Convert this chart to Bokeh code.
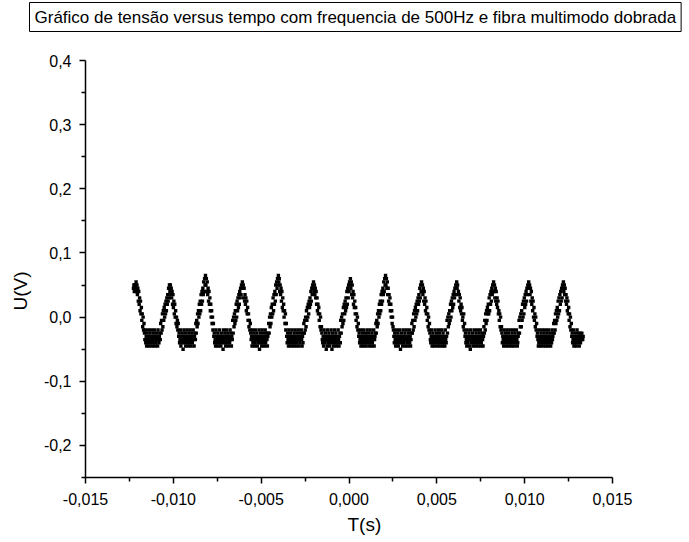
from bokeh.plotting import figure
from bokeh.models import Range1d, FixedTicker, CustomJSTickFormatter, Title, ColumnDataSource
from bokeh.embed import file_html
from bokeh.resources import INLINE

# Oscilloscope record: sample times (microseconds)
t_us = [
    -12270, -12245, -12220, -12195, -12170, -12145, -12120, -12095, -12070, -12045, -12020, -11995, -11970, -11945, -11920, -11895, -11870, -11845, -11820, -11795,
    -11770, -11745, -11720, -11695, -11670, -11645, -11620, -11595, -11570, -11545, -11520, -11495, -11470, -11445, -11420, -11395, -11370, -11345, -11320, -11295,
    -11270, -11245, -11220, -11195, -11170, -11145, -11120, -11095, -11070, -11045, -11020, -10995, -10970, -10945, -10920, -10895, -10870, -10845, -10820, -10795,
    -10770, -10745, -10720, -10695, -10670, -10645, -10620, -10595, -10570, -10545, -10520, -10495, -10470, -10445, -10420, -10395, -10370, -10345, -10320, -10295,
    -10270, -10245, -10220, -10195, -10170, -10145, -10120, -10095, -10070, -10045, -10020, -9995, -9970, -9945, -9920, -9895, -9870, -9845, -9820, -9795,
    -9770, -9745, -9720, -9695, -9670, -9645, -9620, -9595, -9570, -9545, -9520, -9495, -9470, -9445, -9420, -9395, -9370, -9345, -9320, -9295,
    -9270, -9245, -9220, -9195, -9170, -9145, -9120, -9095, -9070, -9045, -9020, -8995, -8970, -8945, -8920, -8895, -8870, -8845, -8820, -8795,
    -8770, -8745, -8720, -8695, -8670, -8645, -8620, -8595, -8570, -8545, -8520, -8495, -8470, -8445, -8420, -8395, -8370, -8345, -8320, -8295,
    -8270, -8245, -8220, -8195, -8170, -8145, -8120, -8095, -8070, -8045, -8020, -7995, -7970, -7945, -7920, -7895, -7870, -7845, -7820, -7795,
    -7770, -7745, -7720, -7695, -7670, -7645, -7620, -7595, -7570, -7545, -7520, -7495, -7470, -7445, -7420, -7395, -7370, -7345, -7320, -7295,
    -7270, -7245, -7220, -7195, -7170, -7145, -7120, -7095, -7070, -7045, -7020, -6995, -6970, -6945, -6920, -6895, -6870, -6845, -6820, -6795,
    -6770, -6745, -6720, -6695, -6670, -6645, -6620, -6595, -6570, -6545, -6520, -6495, -6470, -6445, -6420, -6395, -6370, -6345, -6320, -6295,
    -6270, -6245, -6220, -6195, -6170, -6145, -6120, -6095, -6070, -6045, -6020, -5995, -5970, -5945, -5920, -5895, -5870, -5845, -5820, -5795,
    -5770, -5745, -5720, -5695, -5670, -5645, -5620, -5595, -5570, -5545, -5520, -5495, -5470, -5445, -5420, -5395, -5370, -5345, -5320, -5295,
    -5270, -5245, -5220, -5195, -5170, -5145, -5120, -5095, -5070, -5045, -5020, -4995, -4970, -4945, -4920, -4895, -4870, -4845, -4820, -4795,
    -4770, -4745, -4720, -4695, -4670, -4645, -4620, -4595, -4570, -4545, -4520, -4495, -4470, -4445, -4420, -4395, -4370, -4345, -4320, -4295,
    -4270, -4245, -4220, -4195, -4170, -4145, -4120, -4095, -4070, -4045, -4020, -3995, -3970, -3945, -3920, -3895, -3870, -3845, -3820, -3795,
    -3770, -3745, -3720, -3695, -3670, -3645, -3620, -3595, -3570, -3545, -3520, -3495, -3470, -3445, -3420, -3395, -3370, -3345, -3320, -3295,
    -3270, -3245, -3220, -3195, -3170, -3145, -3120, -3095, -3070, -3045, -3020, -2995, -2970, -2945, -2920, -2895, -2870, -2845, -2820, -2795,
    -2770, -2745, -2720, -2695, -2670, -2645, -2620, -2595, -2570, -2545, -2520, -2495, -2470, -2445, -2420, -2395, -2370, -2345, -2320, -2295,
    -2270, -2245, -2220, -2195, -2170, -2145, -2120, -2095, -2070, -2045, -2020, -1995, -1970, -1945, -1920, -1895, -1870, -1845, -1820, -1795,
    -1770, -1745, -1720, -1695, -1670, -1645, -1620, -1595, -1570, -1545, -1520, -1495, -1470, -1445, -1420, -1395, -1370, -1345, -1320, -1295,
    -1270, -1245, -1220, -1195, -1170, -1145, -1120, -1095, -1070, -1045, -1020, -995, -970, -945, -920, -895, -870, -845, -820, -795,
    -770, -745, -720, -695, -670, -645, -620, -595, -570, -545, -520, -495, -470, -445, -420, -395, -370, -345, -320, -295,
    -270, -245, -220, -195, -170, -145, -120, -95, -70, -45, -20, 5, 30, 55, 80, 105, 130, 155, 180, 205,
    230, 255, 280, 305, 330, 355, 380, 405, 430, 455, 480, 505, 530, 555, 580, 605, 630, 655, 680, 705,
    730, 755, 780, 805, 830, 855, 880, 905, 930, 955, 980, 1005, 1030, 1055, 1080, 1105, 1130, 1155, 1180, 1205,
    1230, 1255, 1280, 1305, 1330, 1355, 1380, 1405, 1430, 1455, 1480, 1505, 1530, 1555, 1580, 1605, 1630, 1655, 1680, 1705,
    1730, 1755, 1780, 1805, 1830, 1855, 1880, 1905, 1930, 1955, 1980, 2005, 2030, 2055, 2080, 2105, 2130, 2155, 2180, 2205,
    2230, 2255, 2280, 2305, 2330, 2355, 2380, 2405, 2430, 2455, 2480, 2505, 2530, 2555, 2580, 2605, 2630, 2655, 2680, 2705,
    2730, 2755, 2780, 2805, 2830, 2855, 2880, 2905, 2930, 2955, 2980, 3005, 3030, 3055, 3080, 3105, 3130, 3155, 3180, 3205,
    3230, 3255, 3280, 3305, 3330, 3355, 3380, 3405, 3430, 3455, 3480, 3505, 3530, 3555, 3580, 3605, 3630, 3655, 3680, 3705,
    3730, 3755, 3780, 3805, 3830, 3855, 3880, 3905, 3930, 3955, 3980, 4005, 4030, 4055, 4080, 4105, 4130, 4155, 4180, 4205,
    4230, 4255, 4280, 4305, 4330, 4355, 4380, 4405, 4430, 4455, 4480, 4505, 4530, 4555, 4580, 4605, 4630, 4655, 4680, 4705,
    4730, 4755, 4780, 4805, 4830, 4855, 4880, 4905, 4930, 4955, 4980, 5005, 5030, 5055, 5080, 5105, 5130, 5155, 5180, 5205,
    5230, 5255, 5280, 5305, 5330, 5355, 5380, 5405, 5430, 5455, 5480, 5505, 5530, 5555, 5580, 5605, 5630, 5655, 5680, 5705,
    5730, 5755, 5780, 5805, 5830, 5855, 5880, 5905, 5930, 5955, 5980, 6005, 6030, 6055, 6080, 6105, 6130, 6155, 6180, 6205,
    6230, 6255, 6280, 6305, 6330, 6355, 6380, 6405, 6430, 6455, 6480, 6505, 6530, 6555, 6580, 6605, 6630, 6655, 6680, 6705,
    6730, 6755, 6780, 6805, 6830, 6855, 6880, 6905, 6930, 6955, 6980, 7005, 7030, 7055, 7080, 7105, 7130, 7155, 7180, 7205,
    7230, 7255, 7280, 7305, 7330, 7355, 7380, 7405, 7430, 7455, 7480, 7505, 7530, 7555, 7580, 7605, 7630, 7655, 7680, 7705,
    7730, 7755, 7780, 7805, 7830, 7855, 7880, 7905, 7930, 7955, 7980, 8005, 8030, 8055, 8080, 8105, 8130, 8155, 8180, 8205,
    8230, 8255, 8280, 8305, 8330, 8355, 8380, 8405, 8430, 8455, 8480, 8505, 8530, 8555, 8580, 8605, 8630, 8655, 8680, 8705,
    8730, 8755, 8780, 8805, 8830, 8855, 8880, 8905, 8930, 8955, 8980, 9005, 9030, 9055, 9080, 9105, 9130, 9155, 9180, 9205,
    9230, 9255, 9280, 9305, 9330, 9355, 9380, 9405, 9430, 9455, 9480, 9505, 9530, 9555, 9580, 9605, 9630, 9655, 9680, 9705,
    9730, 9755, 9780, 9805, 9830, 9855, 9880, 9905, 9930, 9955, 9980, 10005, 10030, 10055, 10080, 10105, 10130, 10155, 10180, 10205,
    10230, 10255, 10280, 10305, 10330, 10355, 10380, 10405, 10430, 10455, 10480, 10505, 10530, 10555, 10580, 10605, 10630, 10655, 10680, 10705,
    10730, 10755, 10780, 10805, 10830, 10855, 10880, 10905, 10930, 10955, 10980, 11005, 11030, 11055, 11080, 11105, 11130, 11155, 11180, 11205,
    11230, 11255, 11280, 11305, 11330, 11355, 11380, 11405, 11430, 11455, 11480, 11505, 11530, 11555, 11580, 11605, 11630, 11655, 11680, 11705,
    11730, 11755, 11780, 11805, 11830, 11855, 11880, 11905, 11930, 11955, 11980, 12005, 12030, 12055, 12080, 12105, 12130, 12155, 12180, 12205,
    12230, 12255, 12280, 12305, 12330, 12355, 12380, 12405, 12430, 12455, 12480, 12505, 12530, 12555, 12580, 12605, 12630, 12655, 12680, 12705,
    12730, 12755, 12780, 12805, 12830, 12855, 12880, 12905, 12930, 12955, 12980, 13005, 13030, 13055, 13080, 13105, 13130, 13155, 13180, 13205,
    13230, 13255, 13280, 13305, 13330,
]

# Measured voltage (millivolts); each cycle is listed as crest/descent, trough, ascent
u_mV = [
    45, 50, 40, 50, 45, 50,
    # cycle 1
    55, 40, 50, 35, 45, 25, 40, 20, 30, 10, 25, 5, 15, -5, 5, -15, 0, -20, -10,
    -25, -35, -20, -40, -30, -45, -25, -35, -40, -20, -30, -45, -35, -25, -40, -30, -20, -35, -45, -30,
    -40, -25, -35, -20, -45, -30, -40, -35, -25, -30, -45, -20, -35, -40, -30, -25, -35,
    -10, -25, -5, -20, 5, -15, 10, -5, 15, 0, 20, 5, 25, 10, 30, 20, 35, 25, 45, 30, 50, 40,
    # cycle 2
    50, 35, 45, 30, 40, 20, 35, 15, 25, 5, 20, 0, 10, -10, 0, -15, -5, -20, -10,
    -30, -25, -40, -35, -20, -45, -30, -40, -25, -35, -50, -30, -20, -40, -35, -25, -45, -30, -35, -20,
    -40, -30, -45, -25, -35, -40, -20, -30, -45, -35, -25, -40, -30, -20, -35, -45, -30, -25, -35,
    -10, -25, -5, -15, 5, -10, 10, 0, 20, 5, 25, 10, 35, 20, 40, 25, 45, 35, 55, 40, 60, 50,
    # cycle 3
    65, 50, 60, 40, 55, 35, 45, 25, 40, 20, 30, 10, 20, 0, 10, -10, 0, -20, -10,
    -30, -25, -40, -35, -45, -20, -30, -40, -35, -25, -45, -30, -40, -20, -35, -30, -45, -25, -40, -35,
    -30, -50, -20, -35, -40, -25, -30, -45, -35, -20, -40, -30, -25, -45, -35, -30, -40, -20, -35, -25,
    -45, -30, -35,
    -5, -25, 0, -15, 5, -10, 10, -5, 20, 0, 25, 10, 30, 15, 35, 20, 40, 30, 45, 35, 50, 45,
    # cycle 4
    55, 45, 50, 30, 45, 25, 35, 20, 30, 10, 25, 5, 15, -5, 5, -15, -5, -20, -10,
    -25, -35, -30, -45, -20, -40, -35, -25, -30, -45, -40, -20, -35, -30, -25, -45, -35, -40, -30, -20,
    -50, -35, -25, -40, -30, -45, -20, -35, -40, -25, -30, -45, -35, -20, -40, -30, -25, -35, -45, -30,
    -25,
    -10, -25, 0, -15, 5, -10, 15, 0, 20, 5, 30, 10, 35, 20, 40, 25, 50, 35, 55, 45, 60, 50,
    # cycle 5
    65, 55, 60, 40, 50, 35, 45, 25, 40, 15, 30, 10, 20, 0, 10, -10, 5, -20, -10,
    -30, -40, -25, -35, -45, -20, -30, -40, -35, -25, -45, -30, -20, -40, -35, -30, -45, -25, -40, -20,
    -35, -30, -45, -40, -25, -35, -20, -30, -45, -35, -40, -25, -30, -20, -35, -45, -30, -40, -25,
    -10, -25, -5, -20, 0, -15, 10, -5, 15, 0, 20, 5, 25, 15, 30, 20, 40, 25, 45, 35, 50, 45,
    # cycle 6
    55, 40, 50, 35, 45, 30, 40, 20, 30, 10, 20, 5, 15, -5, 5, -15, 0, -20, -15,
    -25, -35, -40, -30, -45, -20, -35, -40, -25, -30, -50, -35, -45, -20, -40, -30, -25, -35, -45, -40,
    -30, -20, -35, -50, -25, -40, -30, -45, -35, -20, -30, -40, -25, -45, -35, -30, -40, -20, -35, -45,
    -30, -25, -40,
    -5, -25, 0, -15, 5, -10, 15, -5, 20, 5, 25, 10, 30, 15, 40, 20, 45, 30, 50, 40, 55, 50,
    # cycle 7
    60, 45, 55, 35, 50, 30, 40, 20, 35, 15, 25, 5, 15, -5, 5, -15, 0, -20, -10,
    -30, -25, -40, -35, -20, -45, -30, -35, -40, -25, -45, -20, -35, -30, -40, -25, -45, -35, -30, -20,
    -40, -35, -25, -45, -30, -40, -20, -35, -30, -45, -25, -40, -35, -30, -20, -45, -35, -30, -25,
    -10, -25, -5, -15, 5, -10, 10, 0, 20, 5, 25, 10, 35, 20, 40, 25, 45, 35, 55, 40, 60, 50,
    # cycle 8
    65, 50, 60, 45, 55, 35, 45, 25, 35, 20, 30, 10, 20, 0, 10, -10, 0, -15, -20,
    -30, -40, -25, -35, -45, -30, -20, -40, -35, -25, -45, -30, -40, -20, -35, -50, -30, -25, -40, -35,
    -45, -20, -30, -40, -35, -25, -45, -30, -20, -35, -40, -30, -45, -25, -35, -20, -40, -30, -45, -35,
    -25,
    -10, -25, -5, -20, 5, -15, 10, -5, 15, 0, 20, 5, 25, 10, 30, 20, 35, 25, 45, 30, 50, 40,
    # cycle 9
    55, 40, 50, 35, 45, 25, 40, 20, 30, 10, 25, 5, 15, -5, 5, -15, 0, -20, -10,
    -25, -35, -40, -30, -20, -45, -35, -25, -40, -30, -45, -35, -20, -30, -40, -25, -35, -45, -30, -40,
    -20, -35, -25, -45, -30, -40, -35, -20, -30, -45, -25, -40, -35, -30, -45, -20, -35, -40, -30,
    -5, -25, 0, -15, 5, -10, 10, -5, 20, 0, 25, 10, 30, 15, 35, 20, 40, 30, 45, 35, 50, 45,
    # cycle 10
    55, 45, 50, 35, 40, 25, 35, 15, 30, 10, 20, 5, 15, -5, 0, -15, 5, -20, -10,
    -30, -25, -40, -35, -45, -20, -30, -40, -35, -25, -45, -30, -50, -20, -35, -40, -30, -25, -45, -35,
    -40, -20, -30, -35, -45, -25, -40, -30, -20, -35, -45, -40, -25, -30, -35, -20, -45, -40, -30, -25,
    -35, -45, -30,
    -15, -25, -5, -20, 5, -10, 10, -5, 15, 5, 20, 5, 30, 10, 35, 20, 40, 25, 45, 35, 50, 40,
    # cycle 11
    55, 40, 50, 30, 45, 25, 40, 20, 30, 15, 25, 5, 10, -5, 5, -15, 0, -20, -15,
    -25, -40, -30, -35, -45, -20, -30, -40, -25, -35, -45, -30, -20, -40, -35, -25, -45, -30, -40, -20,
    -35, -30, -45, -25, -40, -35, -20, -30, -45, -35, -25, -40, -30, -20, -35, -45, -40, -30, -25,
    -5, -25, 0, -15, 5, -15, 10, -5, 20, 0, 25, 5, 30, 15, 35, 20, 40, 25, 45, 35, 50, 45,
    # cycle 12
    55, 45, 50, 35, 45, 25, 40, 20, 30, 10, 25, 0, 15, -5, 5, -15, 0, -20, -10,
    -30, -25, -35, -45, -40, -20, -30, -35, -45, -25, -40, -30, -20, -35, -45, -40, -25, -30, -35, -20,
    -45, -40, -30, -25, -35, -45, -20, -40, -30, -35, -25, -45, -30, -40, -20, -35, -30, -25,
    -10, -25, -5, -20, 5, -10, 10, -5, 15, 0, 25, 5, 30, 10, 35, 20, 40, 25, 45, 30, 50, 45,
    # cycle 13
    55, 40, 50, 35, 45, 25, 35, 20, 30, 10, 25, 5, 15, -5, 5, -15, 0, -20, -10,
    -30, -25, -40, -35, -20, -45, -30, -40, -25, -35, -45, -30, -20, -40, -35, -25, -30, -45, -35, -25,
    -40, -30, -35, -25, -30, -35, -30,
]

# Axis ticks
x_ticks = [-0.015, -0.010, -0.005, 0.0, 0.005, 0.010, 0.015]
x_minor = [-0.0125, -0.0075, -0.0025, 0.0025, 0.0075, 0.0125]
y_ticks = [-0.2, -0.1, 0.0, 0.1, 0.2, 0.3, 0.4]
y_minor = [-0.25, -0.15, -0.05, 0.05, 0.15, 0.25, 0.35]

title_text = "Gráfico de tensão versus tempo com frequencia de 500Hz e fibra multimodo dobrada"
x_label = "T(s)"
y_label = "U(V)"

n = min(len(t_us), len(u_mV))
src = ColumnDataSource(data=dict(
    t=[v * 1e-6 for v in t_us[:n]],
    u=[v / 1000.0 for v in u_mV[:n]],
))

FONT = "Liberation Sans"

# The plot area reaches a little above 0.4 so the boxed heading sits right
# over it; the y axis line itself is bounded to [-0.25, 0.4].
p = figure(
    width=689, height=542,
    x_range=Range1d(-0.015, 0.015), y_range=Range1d(-0.25, 0.439),
    output_backend="svg", toolbar_location=None,
    min_border_left=85, min_border_right=77, min_border_top=35, min_border_bottom=65,
    background_fill_color="white", border_fill_color="white",
)
p.outline_line_color = None
p.grid.visible = False

p.scatter(x="t", y="u", source=src, marker="square", size=3.4,
          fill_color="black", line_color=None)

p.xaxis.ticker = FixedTicker(ticks=x_ticks, minor_ticks=x_minor)
p.yaxis.ticker = FixedTicker(ticks=y_ticks, minor_ticks=y_minor)
p.yaxis.bounds = (-0.25, 0.4)
p.xaxis.formatter = CustomJSTickFormatter(code="return tick.toFixed(3).replace('.', ',');")
p.yaxis.formatter = CustomJSTickFormatter(code="return tick.toFixed(1).replace('.', ',');")

for ax in (p.xaxis, p.yaxis):
    ax.axis_line_color = "black"
    ax.axis_line_width = 1.5
    ax.major_tick_line_color = "black"
    ax.major_tick_line_width = 1.5
    ax.minor_tick_line_color = "black"
    ax.minor_tick_line_width = 1.5
    ax.major_tick_in = 0
    ax.major_tick_out = 6
    ax.minor_tick_in = 0
    ax.minor_tick_out = 4
    ax.major_label_text_font = FONT
    ax.major_label_text_font_size = "16px"
    ax.major_label_text_color = "black"

p.xaxis.major_label_standoff = 9
p.yaxis.major_label_standoff = 8

# Axis titles, placed beside the axes
p.add_layout(Title(text=x_label, align="left", offset=262, standoff=8,
                   text_font=FONT, text_font_size="19px", text_font_style="normal",
                   text_color="black"), "below")
p.add_layout(Title(text=y_label, align="left", offset=167, standoff=15,
                   vertical_align="top",
                   text_font=FONT, text_font_size="19px", text_font_style="normal",
                   text_color="black"), "left")

# Boxed heading above the plot area
p.add_layout(Title(text=title_text, align="left", offset=-56, standoff=4,
                   vertical_align="top",
                   text_font=FONT, text_font_size="17px", text_font_style="normal",
                   text_color="black", border_line_color="black", border_line_width=1,
                   background_fill_color="white", padding=5), "above")

open("out.html", "w").write(file_html(p, INLINE))
